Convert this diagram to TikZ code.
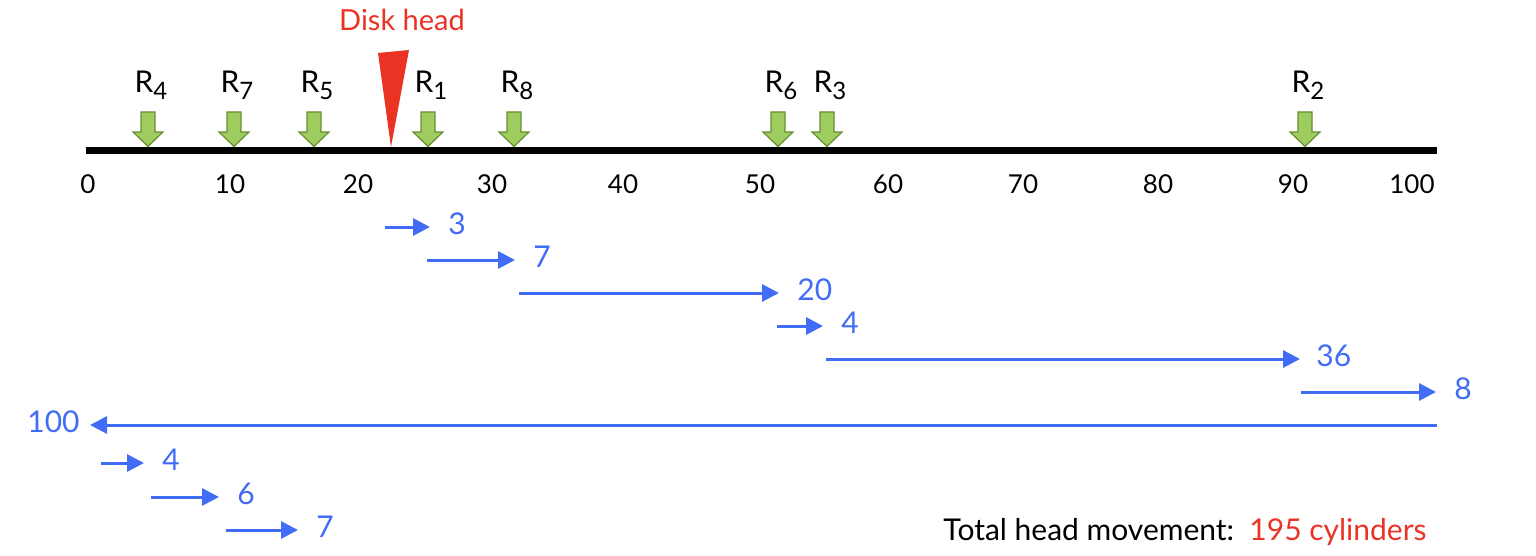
\documentclass[tikz,border=0pt]{standalone}
\usepackage{fontspec}
\setmainfont{Lato}
\usetikzlibrary{positioning,arrows.meta}
\definecolor{headred}{RGB}{235,51,36}
\definecolor{moveblue}{RGB}{64,108,246}
\definecolor{reqgreen}{RGB}{158,204,94}
\definecolor{reqedge}{RGB}{104,142,52}
\newcommand{\rsub}[1]{R\raisebox{-3.5pt}{\fontsize{12}{12}\selectfont #1}}
\tikzset{
  axis line/.style={line width=3.5pt},
  tick label/.style={anchor=base,inner sep=0pt,font=\fontsize{13}{13}\selectfont},
  req arrow/.style={fill=reqgreen,draw=reqedge,line width=0.6pt,line join=miter},
  req label/.style={anchor=base,inner sep=0pt,font=\fontsize{15}{15}\selectfont},
  head/.style={fill=headred,draw=none},
  head label/.style={anchor=base,inner sep=0pt,text=headred,font=\fontsize{14.5}{14.5}\selectfont},
  move/.style={draw=moveblue,line width=1.5pt,-{Triangle[length=8.5pt,width=8.5pt,fill=moveblue]}},
  move label/.style={inner sep=0pt,yshift=1.5pt,text=moveblue,font=\fontsize{15}{15}\selectfont},
  total/.style={anchor=base east,inner sep=0pt,font=\fontsize{15}{15}\selectfont},
}
\begin{document}
\begin{tikzpicture}[x=0.5pt,y=-0.5pt]
    \useasboundingbox (0,0) rectangle (1536,556);

    % cylinder axis
    \coordinate (axl) at (86,150.5);
    \coordinate (axr) at (1437,150.5);
    \draw[axis line] (axl) -- (axr);
    \foreach \v/\x in {0/88,10/230,20/358,30/492,40/623,50/760,60/888,70/1023,80/1158,90/1293,100/1412}
        \node[tick label] (t\v) at (\x,193) {\v};

    % pending requests
    \foreach \n/\x in {4/148,7/234,5/314,1/428,8/514,6/778,3/827,2/1305}{
        \filldraw[req arrow] (\x-7,112) -- (\x+7,112) -- (\x+7,132) -- (\x+15,132)
            -- (\x,146.5) -- (\x-15,132) -- (\x-7,132) -- cycle;
        \node[req label] (r\n) at (\x+3,93) {\rsub{\n}};
    }

    % disk head
    \filldraw[head] (378,53) -- (409,50) -- (391,147) -- cycle;
    \node[head label] (hd) at (402,31) {Disk head};

    % head moves
    \foreach \i/\a/\b/\y in {1/385/430/227,2/427/515/260,3/519/779/293,4/777/823/326,
        5/826/1300/359,6/1301/1436/392,7/1437/90/425,8/101/144/463,9/151/219/497,10/226/298/530}{
        \coordinate (s\i) at (\a,\y);
        \coordinate (e\i) at (\b,\y);
        \draw[move] (s\i) -- (e\i);
    }
    \node[move label, right=9pt of e1] (d1) {3};
    \node[move label, right=9pt of e2] (d2) {7};
    \node[move label, right=9pt of e3] (d3) {20};
    \node[move label, right=9pt of e4] (d4) {4};
    \node[move label, right=8pt of e5] (d5) {36};
    \node[move label, right=9pt of e6] (d6) {8};
    \node[move label, left=5pt of e7] (d7) {100};
    \node[move label, right=9pt of e8] (d8) {4};
    \node[move label, right=9pt of e9] (d9) {6};
    \node[move label, right=9pt of e10] (d10) {7};

    \node[total] (tot) at (1427,540) {Total head movement:\ \ \textcolor{headred}{195 cylinders}};
\end{tikzpicture}
\end{document}
